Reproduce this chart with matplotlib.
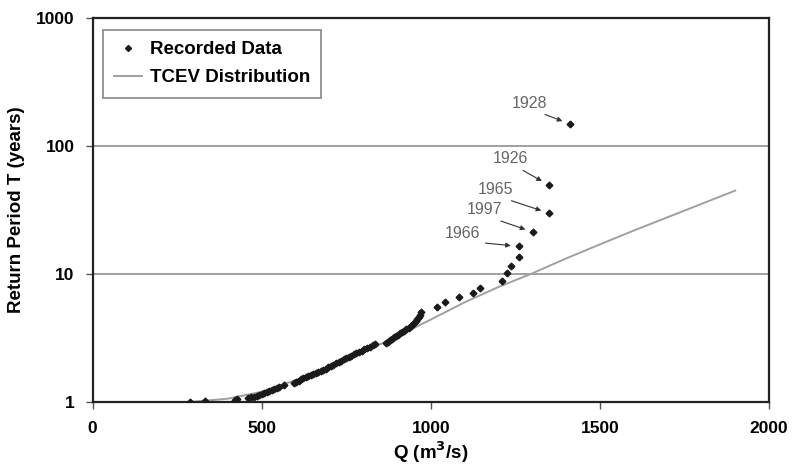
import matplotlib

matplotlib.use("Agg")

import matplotlib.pyplot as plt

plt.rcParams["font.family"] = ["Liberation Sans", "DejaVu Sans"]

# recorded annual maxima (Q in m3/s, return period in years)
q_rec = [288, 333, 420, 428, 460, 468, 476, 485, 492, 500, 507, 515, 522, 530,
         537, 544, 552, 565, 595, 602, 609, 616, 623, 631, 638, 646, 653, 660,
         667, 675, 682, 690, 697, 705, 712, 720, 727, 735, 742, 750, 757, 765,
         772, 780, 787, 795, 802, 810, 820, 828, 835, 868, 874, 880, 886, 892,
         898, 904, 910, 916, 922, 928, 934, 940, 945, 950, 955, 960, 964, 968,
         972, 1018, 1042, 1083, 1125, 1146, 1211, 1226, 1238, 1261, 1261, 1303,
         1350, 1350, 1412]
t_rec = [1.00, 1.02, 1.04, 1.05, 1.07, 1.09, 1.10, 1.12, 1.14, 1.16, 1.18, 1.20,
         1.22, 1.24, 1.26, 1.28, 1.30, 1.36, 1.40, 1.44, 1.47, 1.50, 1.53, 1.56,
         1.59, 1.62, 1.65, 1.68, 1.71, 1.74, 1.78, 1.82, 1.86, 1.90, 1.95, 2.00,
         2.05, 2.10, 2.15, 2.20, 2.25, 2.30, 2.35, 2.40, 2.46, 2.52, 2.58, 2.64,
         2.70, 2.76, 2.83, 2.88, 2.96, 3.04, 3.12, 3.20, 3.28, 3.36, 3.44, 3.52,
         3.60, 3.70, 3.80, 3.90, 4.02, 4.15, 4.30, 4.45, 4.60, 4.80, 5.00, 5.49,
         6.0, 6.6, 7.1, 7.7, 8.8, 10.1, 11.5, 13.5, 16.4, 21.2, 29.8, 49.3, 148]

# TCEV fitted curve
q_tcev = [290, 400, 500, 600, 700, 800, 900, 1000, 1100, 1200, 1300, 1400,
          1500, 1600, 1700, 1800, 1900]
t_tcev = [1.0, 1.06, 1.2, 1.48, 1.88, 2.45, 3.25, 4.4, 6.0, 7.9, 10.1, 13.2,
          17.0, 21.8, 27.7, 35.2, 44.7]

# labelled flood years: index into recorded data, text offset (points)
years = ["1928", "1926", "1965", "1997", "1966"]
year_idx = [84, 83, 82, 81, 80]
year_offsets = [(-29, 15), (-28, 19), (-39, 17), (-35, 16), (-41, 9)]

fig = plt.figure(figsize=(7.92, 4.69), dpi=100)
ax = fig.add_axes([0.117, 0.143, 0.854, 0.819])

ax.plot(q_rec, t_rec, linestyle="none", marker="D", markersize=3.4,
        color="#1a1a1a", label="Recorded Data", zorder=3)
ax.plot(q_tcev, t_tcev, color="#a0a0a0", linewidth=1.4,
        label="TCEV Distribution", zorder=2)

for name, i, off in zip(years, year_idx, year_offsets):
    ax.annotate(name, xy=(q_rec[i], t_rec[i]), xytext=off,
                textcoords="offset points", ha="center", va="center",
                fontsize=11.5, color="#666666",
                arrowprops=dict(arrowstyle="-|>", color="#333333", lw=0.8,
                                mutation_scale=7, relpos=(0.65, 0),
                                shrinkA=2, shrinkB=6))

ax.set_yscale("log")
ax.set_xlim(0, 2000)
ax.set_ylim(1, 1000)
ax.set_xticks([0, 500, 1000, 1500, 2000])
ax.set_yticks([1, 10, 100, 1000])
ax.set_yticklabels(["1", "10", "100", "1000"])
ax.minorticks_off()
ax.yaxis.grid(True, color="#a0a0a0", linewidth=1.4)
ax.set_axisbelow(True)

for s in ax.spines.values():
    s.set_color("#222222")
    s.set_linewidth(1.6)

ax.tick_params(direction="out", length=5, width=1, color="#555555",
               labelsize=12.5, pad=8)
ax.tick_params(axis="x", pad=9)
for lab in ax.get_xticklabels() + ax.get_yticklabels():
    lab.set_fontweight("bold")

ax.set_xlabel("Q (m$^\\mathbf{3}$/s)", fontsize=13.5, fontweight="bold", labelpad=2)
ax.set_ylabel("Return Period T (years)", fontsize=13.5, fontweight="bold",
              labelpad=8)

leg = ax.legend(loc="upper left", bbox_to_anchor=(0.015, 0.969), fancybox=False,
                edgecolor="#888888", fontsize=13.5, handlelength=1.5,
                handletextpad=0.4, borderpad=0.6, labelspacing=0.6,
                borderaxespad=0, framealpha=1, markerscale=0.9)
for t in leg.get_texts():
    t.set_fontweight("bold")
leg.get_frame().set_linewidth(1.2)

fig.savefig("out.png", dpi=100)
